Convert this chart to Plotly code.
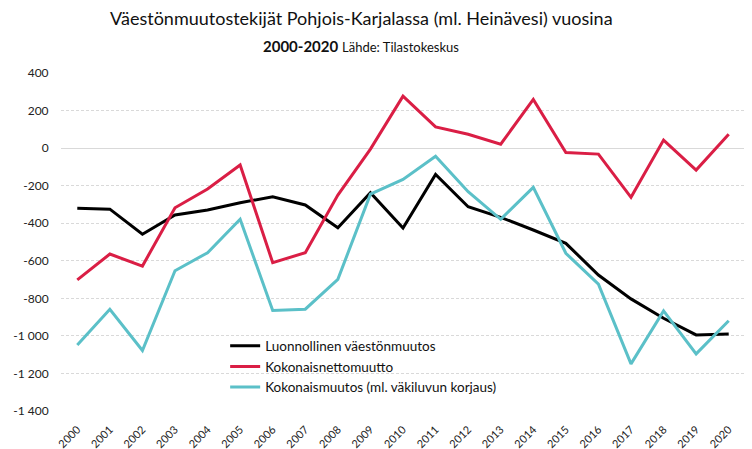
import plotly.graph_objects as go

years = [str(y) for y in range(2000, 2021)]
luonnollinen = [-320, -325, -459, -356, -330, -291, -259, -303, -424, -238, -425,
                -140, -312, -369, -436, -507, -676, -803, -906, -995, -990]
nettomuutto = [-702, -564, -628, -318, -218, -90, -610, -557, -250, -5, 277,
               113, 74, 21, 259, -23, -32, -262, 43, -117, 74]
kokonais = [-1048, -858, -1078, -653, -557, -379, -865, -858, -699, -245, -167,
            -43, -232, -379, -209, -560, -724, -1149, -867, -1096, -919]

series_names = ["Luonnollinen väestönmuutos", "Kokonaisnettomuutto",
                "Kokonaismuutos (ml. väkiluvun korjaus)"]
colors = ["#000000", "#DA1E45", "#5BC0C8"]

y_tickvals = [400, 200, 0, -200, -400, -600, -800, -1000, -1200, -1400]
y_ticktext = ["400", "200", "0", "-200", "-400", "-600", "-800", "-1 000", "-1 200", "-1 400"]

FONT = "Lato, 'Open Sans', sans-serif"

fig = go.Figure()
xs = list(range(len(years)))
for name, vals, c in zip(series_names, [luonnollinen, nettomuutto, kokonais], colors):
    fig.add_trace(go.Scatter(x=xs, y=vals, mode="lines", name=name,
                             line=dict(color=c, width=3)))

fig.update_layout(
    width=744, height=441,
    margin=dict(l=53, r=7, t=65, b=38, autoexpand=False),
    paper_bgcolor="white", plot_bgcolor="white",
    font=dict(family=FONT, color="#222222"),
    showlegend=True,
    legend=dict(x=0.24, y=0.238, xanchor="left", yanchor="top",
                bgcolor="rgba(0,0,0,0)", font=dict(size=13.5, color="#111111"),
                tracegroupgap=0, itemwidth=30),
    annotations=[
        dict(text="Väestönmuutostekijät Pohjois-Karjalassa (ml. Heinävesi) vuosina",
             xref="paper", yref="paper", x=(361 - 61) / 684, y=1 + (73 - 18) / 338,
             xanchor="center", yanchor="middle", showarrow=False,
             font=dict(size=18, family=FONT, color="#111111")),
        dict(text="<b>2000-2020</b> <span style='font-size:13px'>Lähde: Tilastokeskus</span>",
             xref="paper", yref="paper", x=(361 - 61) / 684, y=1 + (73 - 46) / 338,
             xanchor="center", yanchor="middle", showarrow=False,
             font=dict(size=15, family=FONT, color="#111111")),
    ],
)

fig.update_xaxes(range=[-0.5, 20.5], tickmode="array", tickvals=xs, ticktext=years,
                 tickangle=-45, tickfont=dict(size=11, color="#222222"), automargin=False,
                 showgrid=False, zeroline=False, showline=False,
                 ticks="outside", ticklen=7, tickcolor="rgba(0,0,0,0)")
fig.update_yaxes(range=[-1400, 400], tickmode="array", tickvals=y_tickvals, ticktext=y_ticktext,
                 tickfont=dict(size=12, color="#222222"), automargin=False,
                 showgrid=True, gridcolor="#D9D9D9", griddash="3px,2px", gridwidth=1,
                 zeroline=True, zerolinecolor="#D9D9D9", zerolinewidth=1,
                 showline=False, ticks="outside", ticklen=9, tickcolor="rgba(0,0,0,0)")

fig.write_html("out.html")
